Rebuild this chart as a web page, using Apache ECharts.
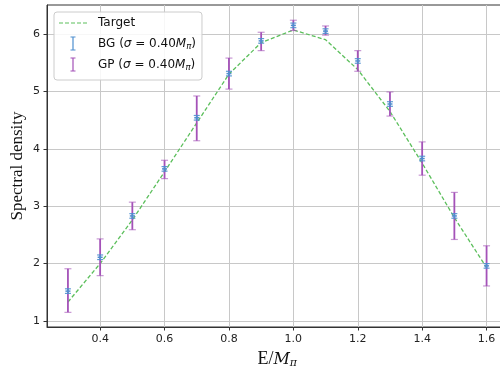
<!DOCTYPE html>
<html><head><meta charset="utf-8">
<script src="https://cdn.jsdelivr.net/npm/echarts@6/dist/echarts.min.js"></script>
<style>html,body{margin:0;padding:0;background:#fff}#c{width:500px;height:368px}</style>
</head><body><div id="c"></div>
<script>
const xs = [0.3,0.4,0.5,0.6,0.7,0.8,0.9,1.0,1.1,1.2,1.3,1.4,1.5,1.6];
const target = [1.33,2.0,2.76,3.6,4.45,5.3,5.85,6.07,5.9,5.38,4.65,3.75,2.8,1.93];
const bgMean = [1.52,2.11,2.83,3.65,4.54,5.31,5.88,6.15,6.05,5.53,4.78,3.83,2.83,1.96];
const bgErr = [0.04,0.04,0.04,0.04,0.04,0.04,0.04,0.04,0.04,0.04,0.04,0.04,0.04,0.04];
const gpMean = [1.53,2.11,2.83,3.64,4.53,5.31,5.87,6.15,6.06,5.53,4.78,3.83,2.83,1.96];
const gpErr = [0.38,0.32,0.24,0.16,0.39,0.27,0.16,0.09,0.08,0.18,0.21,0.29,0.41,0.35];
const xTicks = [0.4,0.6,0.8,1.0,1.2,1.4,1.6];
const yTicks = [1,2,3,4,5,6];

const chart = echarts.init(document.getElementById('c'), null, {renderer:'canvas'});

function errRender(color, capHalf, lw, capOpacity, dot) {
  return function(params, api) {
    const x = api.value(0), y = api.value(1), e = api.value(2);
    const t = api.coord([x, y + e]), b = api.coord([x, y - e]), c = api.coord([x, y]);
    const st = {stroke: color, lineWidth: lw};
    const cst = {stroke: color, lineWidth: 1.2, opacity: capOpacity};
    const ch = [
      {type:'line', shape:{x1:t[0], y1:t[1], x2:b[0], y2:b[1]}, style: st},
      {type:'line', shape:{x1:t[0]-capHalf, y1:t[1], x2:t[0]+capHalf, y2:t[1]}, style: cst},
      {type:'line', shape:{x1:b[0]-capHalf, y1:b[1], x2:b[0]+capHalf, y2:b[1]}, style: cst}
    ];
    if (dot) {
      ch.push({type:'line', shape:{x1:c[0]-2.5, y1:c[1], x2:c[0]+2.5, y2:c[1]}, style:{stroke: color, lineWidth: 1.5}});
    }
    return {type:'group', children: ch};
  };
}

const tickFont = {fontFamily:'DejaVu Sans', fontSize: 11, color:'#222'};
const leg = (name) => {
  if (name === 'Target') return '{n|Target}';
  return '{n|' + name + ' (}{i|σ}{n| = 0.40}{i|M}{s|π}{n|)}';
};

const barIcon = 'path://M0,7L0.001,7L0,7.001Z M28,7L27.999,7L28,7.001Z M11.5,0H16.5V1H11.5Z M13.4,1H14.6V13H13.4Z M11.5,13H16.5V14H11.5Z';
const dashIcon = 'path://M0,0L0.001,0L0,0.001Z M28,14L27.999,14L28,13.999Z M0,6.4H4V7.6H0Z M6,6.4H10V7.6H6Z M12,6.4H16V7.6H12Z M18,6.4H22V7.6H18Z M24,6.4H28V7.6H24Z';

chart.setOption({
  animation: false,
  grid: {left: 47, right: -7.5, top: 5, bottom: 41, show: true, borderColor: '#333', borderWidth: 1, backgroundColor:'#fff', outerBoundsMode: 'none', containLabel: false},
  legend: {
    orient: 'vertical', left: 54, top: 12,
    padding: [4, 6, 8, 5],
    itemWidth: 28, itemHeight: 14, itemGap: 6,
    backgroundColor: 'rgba(255,255,255,0.85)', borderColor: '#ccc', borderWidth: 1, borderRadius: 3,
    formatter: leg,
    textStyle: {
      padding: [0,0,0,6],
      rich: {
        n: {fontFamily:'DejaVu Sans', fontSize: 12, color:'#111', lineHeight: 16},
        i: {fontFamily:'DejaVu Sans', fontStyle:'italic', fontSize: 12, color:'#111', lineHeight: 16},
        s: {fontFamily:'DejaVu Sans', fontStyle:'italic', fontSize: 8.5, color:'#111', lineHeight: 16, padding:[6,0,0,0]}
      }
    },
    data: [
      {name:'Target', icon: dashIcon, itemStyle:{color:'#5cbf5c'}},
      {name:'BG', icon: barIcon, itemStyle:{color:'#4f8fcf'}},
      {name:'GP', icon: barIcon, itemStyle:{color:'#a452b8'}}
    ]
  },
  xAxis: {
    type: 'value', min: 0.235, max: 1.665,
    name: '{r|E/}{i|M}{s|π}', nameLocation: 'middle', nameGap: 23, nameMoveOverlap: false,
    nameTextStyle: {
      rich: {
        r: {fontFamily:'Liberation Serif', fontSize: 18, color:'#111'},
        i: {fontFamily:'DejaVu Serif', fontStyle:'italic', fontSize: 16, color:'#111'},
        s: {fontFamily:'DejaVu Serif', fontStyle:'italic', fontSize: 11, color:'#111', padding:[8,0,0,0]}
      }
    },
    axisLine: {onZero: false, lineStyle: {color:'#333', width: 1}},
    axisTick: {show: true, length: 3.5, customValues: xTicks, lineStyle:{color:'#333'}},
    axisLabel: Object.assign({customValues: xTicks, margin: 7, formatter: v => v.toFixed(1)}, tickFont),
    splitLine: {show: true, lineStyle: {color:'#c8c8c8', width: 1}}
  },
  yAxis: {
    type: 'value', min: 0.895, max: 6.505,
    name: 'Spectral density', nameLocation: 'middle', nameGap: 21, nameRotate: 90, nameMoveOverlap: false,
    nameTextStyle: {fontFamily:'Liberation Serif', fontSize: 17, color:'#111'},
    axisLine: {show: true, onZero: false, lineStyle: {color:'#333', width: 1}},
    axisTick: {show: true, length: 3.5, customValues: yTicks, lineStyle:{color:'#333'}},
    axisLabel: Object.assign({customValues: yTicks, margin: 7}, tickFont),
    splitLine: {show: true, lineStyle: {color:'#c8c8c8', width: 1}}
  },
  series: [
    {
      name: 'Target', type: 'line', symbol: 'none', z: 3,
      data: xs.map((x, i) => [x, target[i]]),
      lineStyle: {color: '#5cbf5c', width: 1.3, type: [4, 2.2]},
      itemStyle: {color: '#5cbf5c'}
    },
    {
      name: 'GP', type: 'custom', z: 4,
      renderItem: errRender('#a452b8', 3.5, 1.8, 0.6, false),
      data: xs.map((x, i) => [x, gpMean[i], gpErr[i]]),
      itemStyle: {color:'#a452b8'}
    },
    {
      name: 'BG', type: 'custom', z: 5,
      renderItem: errRender('#4f8fcf', 3, 1.5, 0.9, true),
      data: xs.map((x, i) => [x, bgMean[i], bgErr[i]]),
      itemStyle: {color:'#4f8fcf'}
    }
  ]
});
</script></body></html>
